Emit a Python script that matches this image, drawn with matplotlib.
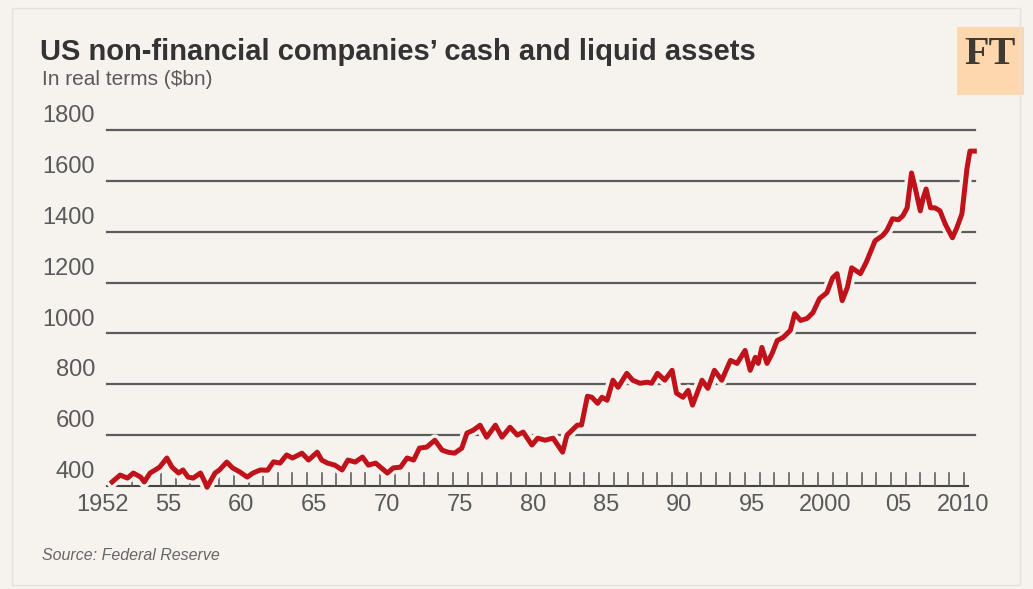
import matplotlib
matplotlib.use("Agg")
import matplotlib.pyplot as plt
import matplotlib.patheffects as pe
import matplotlib.transforms as mtransforms
from matplotlib.patches import Rectangle

# cash and liquid assets, real terms ($bn)
years = [1951.65, 1952.2, 1952.7, 1953.1, 1953.6, 1953.85, 1954.25, 1954.6, 1954.9, 1955.4,
         1955.75, 1956.2, 1956.5, 1956.85, 1957.2, 1957.7, 1958.0, 1958.15, 1958.7, 1959.0,
         1959.5, 1959.9, 1960.4, 1960.9, 1961.3, 1961.8, 1962.3, 1962.7, 1963.15, 1963.6,
         1964.0, 1964.65, 1965.1, 1965.7, 1966.0, 1966.4, 1966.9, 1967.4, 1967.8, 1968.3,
         1968.8, 1969.2, 1969.7, 1970.5, 1970.9, 1971.4, 1971.85, 1972.3, 1972.7, 1973.2,
         1973.75, 1974.25, 1974.65, 1975.1, 1975.6, 1975.95, 1976.4, 1976.85, 1977.3, 1977.9,
         1978.35, 1978.9, 1979.4, 1979.8, 1980.4, 1980.8, 1981.3, 1981.85, 1982.5, 1982.8,
         1983.5, 1983.8, 1984.2, 1984.5, 1984.9, 1985.2, 1985.55, 1985.95, 1986.3, 1986.9,
         1987.3, 1987.8, 1988.3, 1988.6, 1989.0, 1989.5, 1990.0, 1990.3, 1990.75, 1991.1,
         1991.4, 1992.05, 1992.45, 1992.9, 1993.4, 1994.0, 1994.45, 1995.0, 1995.35, 1995.7,
         1995.9, 1996.15, 1996.5, 1996.85, 1997.2, 1997.6, 1998.1, 1998.4, 1998.8, 1999.25,
         1999.65, 2000.1, 2000.6, 2001.0, 2001.3, 2001.65, 2002.0, 2002.3, 2002.9, 2003.3,
         2003.9, 2004.4, 2004.7, 2005.1, 2005.5, 2005.8, 2006.1, 2006.4, 2006.65, 2007.0,
         2007.2, 2007.4, 2007.7, 2008.0, 2008.35, 2008.7, 2009.2, 2009.5, 2009.85, 2010.2,
         2010.4, 2010.7]
cash = [416, 443, 431, 451, 435, 416, 451, 463, 474, 510,
        474, 451, 463, 435, 431, 451, 416, 395, 451, 463,
        494, 471, 455, 435, 451, 463, 462, 495, 490, 522,
        510, 529, 502, 533, 502, 490, 482, 463, 502, 494,
        514, 482, 490, 451, 471, 474, 510, 502, 549, 553,
        580, 541, 533, 529, 549, 608, 620, 639, 592, 639,
        592, 631, 600, 612, 561, 588, 580, 588, 533, 600,
        639, 640, 753, 749, 725, 749, 737, 816, 788, 843,
        816, 804, 808, 804, 843, 816, 855, 765, 749, 776,
        718, 816, 784, 855, 816, 894, 882, 933, 855, 906,
        882, 945, 882, 921, 972, 984, 1012, 1078, 1051, 1059,
        1082, 1137, 1160, 1219, 1235, 1129, 1180, 1258, 1235, 1280,
        1364, 1384, 1404, 1451, 1447, 1462, 1494, 1631, 1572, 1482,
        1533, 1568, 1494, 1494, 1482, 1431, 1376, 1415, 1470, 1650,
        1717, 1717]

y_ticks = [400, 600, 800, 1000, 1200, 1400, 1600, 1800]
x_label_years = [1952, 1955, 1960, 1965, 1970, 1975, 1980, 1985, 1990, 1995, 2000, 2005, 2010]
x_labels = ['1952', '55', '60', '65', '70', '75', '80', '85', '90', '95', '2000', '05', '2010']

bg = '#F6F3EF'
grey_txt = '#5a5a5a'
line_red = '#C0121A'

plt.rcParams['font.family'] = ['Liberation Sans', 'DejaVu Sans']

fig = plt.figure(figsize=(10.33, 5.89), dpi=100, facecolor=bg)
ax = fig.add_axes([0.1036, 0.1749, 0.8403, 0.6044])
ax.set_facecolor(bg)

ax.set_xlim(1951.3, 2010.75)
ax.set_ylim(400, 1800)

# horizontal rules
for v in y_ticks[1:]:
    ax.axhline(v, color='#5c5c5c', lw=1.6, zorder=1, clip_on=False)

# baseline with upward year ticks
ax.plot([1951.3, 2010.25], [400, 400], color='#444444', lw=1.5, zorder=2, clip_on=False)
for yr in range(1952, 2011):
    ax.plot([yr, yr], [400, 450], color='#555555', lw=1.1, zorder=2, clip_on=False)

for s in ax.spines.values():
    s.set_visible(False)
ax.set_xticks([])
ax.set_yticks([])

ax.plot(years, cash, color=line_red, lw=3.6, solid_joinstyle='round', zorder=4, clip_on=False,
        path_effects=[pe.Stroke(linewidth=8.5, foreground=bg), pe.Normal()])

# value labels sit just above each rule
blend = mtransforms.blended_transform_factory(fig.transFigure, ax.transData)
for v in y_ticks:
    ax.annotate(str(v), xy=(95 / 1033, v), xycoords=blend, xytext=(0, 10),
                textcoords='offset points', ha='right', va='center',
                fontsize=17, color=grey_txt, annotation_clip=False)

for yr, lab in zip(x_label_years, x_labels):
    pos = yr + 0.5
    if lab == '1952':
        pos = yr - 1.0
    elif lab == '2010':
        pos = yr - 0.1
    ax.annotate(lab, xy=(pos, 400), xycoords='data', xytext=(0, -14),
                textcoords='offset points', ha='center', va='center',
                fontsize=17, color=grey_txt, annotation_clip=False)

fig.text(40 / 1033, 1 - 52 / 589, "US non-financial companies\u2019 cash and liquid assets",
         fontsize=21, fontweight='bold', color='#333333', va='center', ha='left')
fig.text(42 / 1033, 1 - 80 / 589, "In real terms ($bn)", fontsize=15, color=grey_txt,
         va='center', ha='left')
fig.text(42 / 1033, 1 - 555 / 589, "Source: Federal Reserve", fontsize=11.5, color='#666666',
         style='italic', va='center', ha='left')

# FT badge
fig.patches.append(Rectangle((957 / 1033, 1 - 95 / 589), 67 / 1033, 68 / 589,
                             transform=fig.transFigure, facecolor='#FDD7AE',
                             edgecolor='none', zorder=0))
fig.text(990 / 1033, 1 - 54 / 589, "FT", fontsize=29, fontweight='bold', color='#3f3a34',
         family=['Liberation Serif', 'DejaVu Serif'], ha='center', va='center')

# outer panel edge
fig.patches.append(Rectangle((12 / 1033, 4 / 589), 1008 / 1033, 577 / 589,
                             transform=fig.transFigure, facecolor='none',
                             edgecolor='#e6e1da', lw=1.0, zorder=0))

fig.savefig('out.png', dpi=100, facecolor=bg)
